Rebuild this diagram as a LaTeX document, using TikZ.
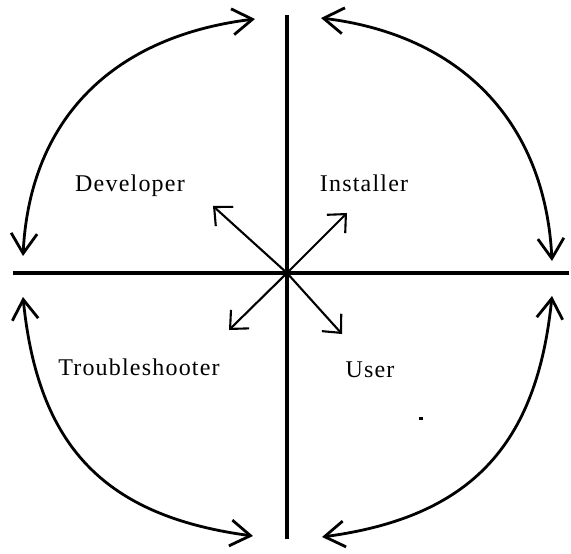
\documentclass[tikz,border=0pt]{standalone}
\usepackage{fontspec}
\setmainfont{Liberation Serif}[LetterSpace=5]
\usetikzlibrary{arrows.meta}

\begin{document}
\begin{tikzpicture}[
  x=1pt, y=-1pt,
  axis/.style={line width=3.4pt},
  orbit/.style={line width=2.8pt,
    {Straight Barb[length=20pt,width=26pt]}-{Straight Barb[length=20pt,width=26pt]}},
  spoke/.style={line width=2.1pt, -{Straight Barb[length=14pt,width=26pt]}},
  role/.style={font=\fontsize{24}{28}\selectfont, anchor=base, inner sep=0pt}
]
\useasboundingbox (0,0) rectangle (571,554);

% Axes
\coordinate (origin) at (287,273);
\coordinate (north) at (287,15);
\coordinate (south) at (287,539);
\coordinate (west) at (13,273);
\coordinate (east) at (569,273);
\draw[axis] (north) -- (south);
\draw[axis] (west) -- (east);

% Spokes from the centre
\coordinate (ul) at (213,206);
\coordinate (ur) at (347,213);
\coordinate (ll) at (229,330);
\coordinate (lr) at (342,334);
\foreach \tip in {ul, ur, ll, lr}
  \draw[spoke] (origin) -- (\tip);
\fill (origin) circle[radius=4pt];

% Outer arcs
\coordinate (tl a) at (23,256);
\coordinate (tl b) at (255,19);
\coordinate (tr a) at (321,18);
\coordinate (tr b) at (552,261);
\coordinate (br a) at (552,296);
\coordinate (br b) at (322,537);
\coordinate (bl a) at (23,297);
\coordinate (bl b) at (253,536);
\draw[orbit] (tl a) .. controls +(7,-140) and +(-139,17) .. (tl b);
\draw[orbit] (tr a) .. controls +(139,17) and +(-7,-140) .. (tr b);
\draw[orbit] (br a) .. controls +(-15,149) and +(149,-20) .. (br b);
\draw[orbit] (bl a) .. controls +(15,149) and +(-149,-20) .. (bl b);

% Quadrant labels
\node[role] (developer) at (130,191) {Developer};
\node[role] (installer) at (364,191) {Installer};
\node[role] (trouble) at (139,375) {Troubleshooter};
\node[role] (user) at (370,377) {User};

% stray mark
\fill (419,417) rectangle (423,420);

\end{tikzpicture}
\end{document}
